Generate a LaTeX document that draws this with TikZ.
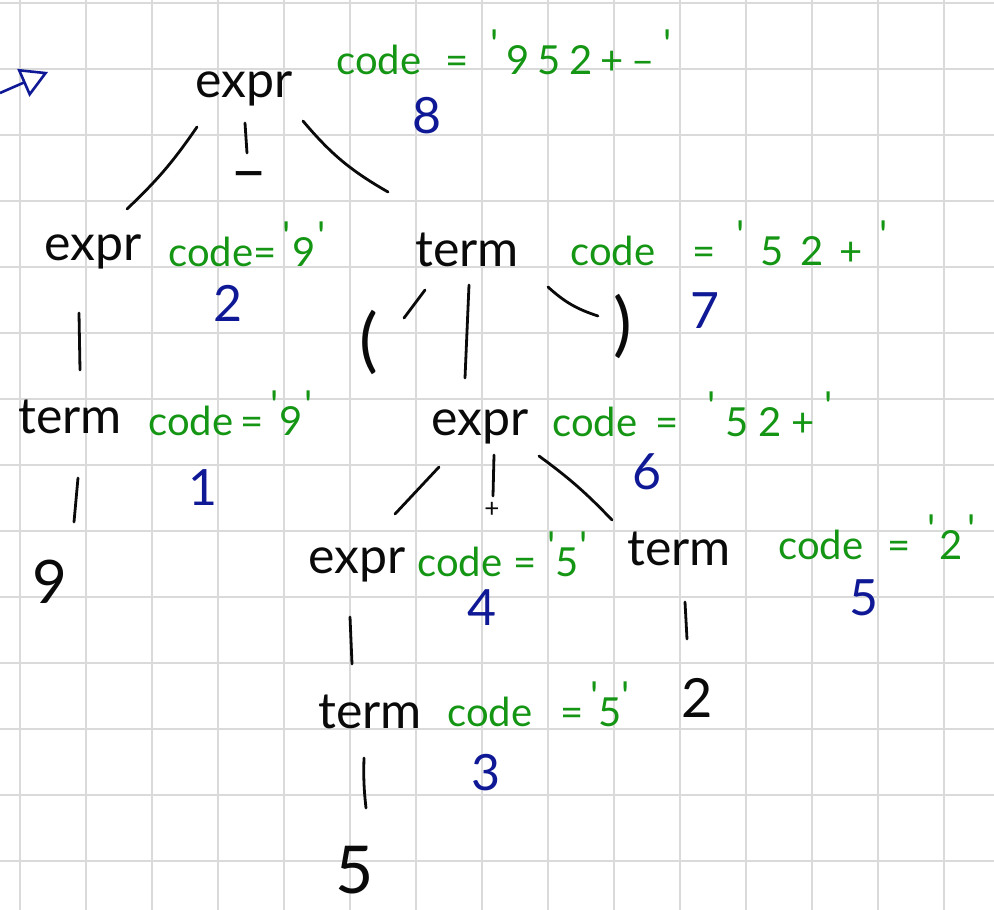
\documentclass[tikz,border=0pt]{standalone}
\usepackage{fontspec}
\newfontfamily\hand{Lato}
\usetikzlibrary{arrows.meta}
\definecolor{ink}{RGB}{10,10,10}
\definecolor{grn}{RGB}{20,150,20}
\definecolor{blu}{RGB}{15,25,150}
\definecolor{gridc}{RGB}{218,218,218}
\newcommand\qt{\raisebox{0.4em}{'}}
\newcommand\cdv[4]{\makebox[#1pt][l]{code}\makebox[#2pt][l]{=}\makebox[#3pt][s]{#4}}
\begin{document}
\begin{tikzpicture}[x=1pt,y=-1pt,
 lab/.style={text=ink,font=\hand\fontsize{50}{54}\selectfont,inner sep=0pt,anchor=base},
 sym/.style={text=ink,font=\hand\fontsize{56}{60}\selectfont,inner sep=0pt,anchor=center},
 ann/.style={text=grn,font=\hand\fontsize{40}{44}\selectfont,inner sep=0pt,anchor=base west},
 num/.style={text=blu,font=\hand\fontsize{50}{54}\selectfont,inner sep=0pt,anchor=center},
 edge/.style={draw=ink,line width=2.8pt,line cap=round},
]
\fill[white] (0,0) rectangle (994,910);
\useasboundingbox (0,0) rectangle (994,910);
\foreach \i in {0,...,14} \draw[gridc,line width=1.6pt] ({20+66*\i},0) -- ({20+66*\i},910);
\foreach \j in {0,...,13} \draw[gridc,line width=1.6pt] (0,{3+66*\j}) -- (994,{3+66*\j});

% entry arrow
\coordinate (a0) at (0,93);
\coordinate (a1) at (48,72);
\draw[blu,line width=2.6pt,-{Triangle[open,length=27pt,width=30pt,line width=2.6pt]}] (a0) -- (a1);

% tree labels
\node[lab] (r) at (244,97) {expr};
\node[lab] (e2) at (93,260) {expr};
\node[lab] (t2) at (467,266) {term};
\node[lab] (t3) at (70,433) {term};
\node[lab] (e3) at (480,435) {expr};
\node[lab] (e4) at (357,573) {expr};
\node[lab] (t4) at (679,565) {term};
\node[lab] (t5) at (370,728) {term};
\node[lab,font=\hand\fontsize{60}{64}\selectfont] (n9) at (50,603) {9};
\node[lab,font=\hand\fontsize{54}{60}\selectfont] (n2) at (697,717) {2};
\node[lab,font=\hand\fontsize{66}{70}\selectfont] (n5) at (355,893) {5};
\node[sym,font=\hand\fontsize{64}{68}\selectfont] (minus) at (249,182) {\textendash};
\node[sym,font=\hand\fontsize{70}{74}\selectfont] (lp) at (369,342) {(};
\node[sym,font=\hand\fontsize{70}{74}\selectfont] (rp) at (623,326) {)};
\node[sym,font=\hand\fontsize{26}{28}\selectfont] (plus) at (492,510) {+};

% code annotations
\node[ann] (c8) at (336,74) {\cdv{109}{45}{181}{\qt\hfill9\hfill5\hfill2\hfill+\hfill\textendash\hfill\qt}};
\node[ann] (c2) at (168,266) {\cdv{85}{29}{43}{\qt\hfill9\hfill\qt}};
\node[ann] (c7) at (570,265) {\cdv{122}{44}{151}{\qt\hfill5\hfill2\hfill+\hfill\qt}};
\node[ann] (c1) at (148,435) {\cdv{92}{30}{42}{\qt\hfill9\hfill\qt}};
\node[ann] (c6) at (552,436) {\cdv{103}{52}{125}{\qt\hfill5\hfill2\hfill+\hfill\qt}};
\node[ann] (c4) at (417,576) {\cdv{96}{34}{40}{\qt\hfill5\hfill\qt}};
\node[ann] (c5) at (778,559) {\cdv{109}{40}{48}{\qt\hfill2\hfill\qt}};
\node[ann] (c3) at (447,726) {\cdv{113}{30}{35}{\qt\hfill5\hfill\qt}};

% order numbers
\node[num] (o8) at (427,116) {8};
\node[num] (o2) at (228,303) {2};
\node[num] (o7) at (705,311) {7};
\node[num] (o1) at (203,488) {1};
\node[num] (o6) at (647,472) {6};
\node[num] (o4) at (482,608) {4};
\node[num] (o5) at (864,598) {5};
\node[num] (o3) at (486,773) {3};

% connector end points
\coordinate (r1a) at (197,127); \coordinate (r1b) at (127,209);
\coordinate (r2a) at (245,123); \coordinate (r2b) at (247,153);
\coordinate (r3a) at (303,121); \coordinate (r3b) at (388,192);
\coordinate (e2a) at (79,313);  \coordinate (e2b) at (80,370);
\coordinate (t2la) at (425,290); \coordinate (t2lb) at (404,318);
\coordinate (t2ma) at (469,285); \coordinate (t2mb) at (465,378);
\coordinate (t2ra) at (548,287); \coordinate (t2rb) at (598,316);
\coordinate (t3a) at (78,478);  \coordinate (t3b) at (74,522);
\coordinate (e3la) at (439,467); \coordinate (e3lb) at (395,514);
\coordinate (e3ma) at (494,455); \coordinate (e3mb) at (493,496);
\coordinate (e3ra) at (539,456); \coordinate (e3rb) at (612,520);
\coordinate (e4a) at (350,617); \coordinate (e4b) at (352,664);
\coordinate (t4a) at (685,602); \coordinate (t4b) at (687,639);
\coordinate (t5a) at (364,758); \coordinate (t5b) at (366,808);

\draw[edge] (r1a) to[bend left=6] (r1b);
\draw[edge] (r2a) -- (r2b);
\draw[edge] (r3a) to[bend right=10] (r3b);
\draw[edge] (e2a) -- (e2b);
\draw[edge] (t2la) -- (t2lb);
\draw[edge] (t2ma) -- (t2mb);
\draw[edge] (t2ra) to[bend right=12] (t2rb);
\draw[edge] (t3a) -- (t3b);
\draw[edge] (e3la) -- (e3lb);
\draw[edge] (e3ma) -- (e3mb);
\draw[edge] (e3ra) to[bend left=5] (e3rb);
\draw[edge] (e4a) -- (e4b);
\draw[edge] (t4a) -- (t4b);
\draw[edge] (t5a) to[bend right=4] (t5b);
\end{tikzpicture}
\end{document}
